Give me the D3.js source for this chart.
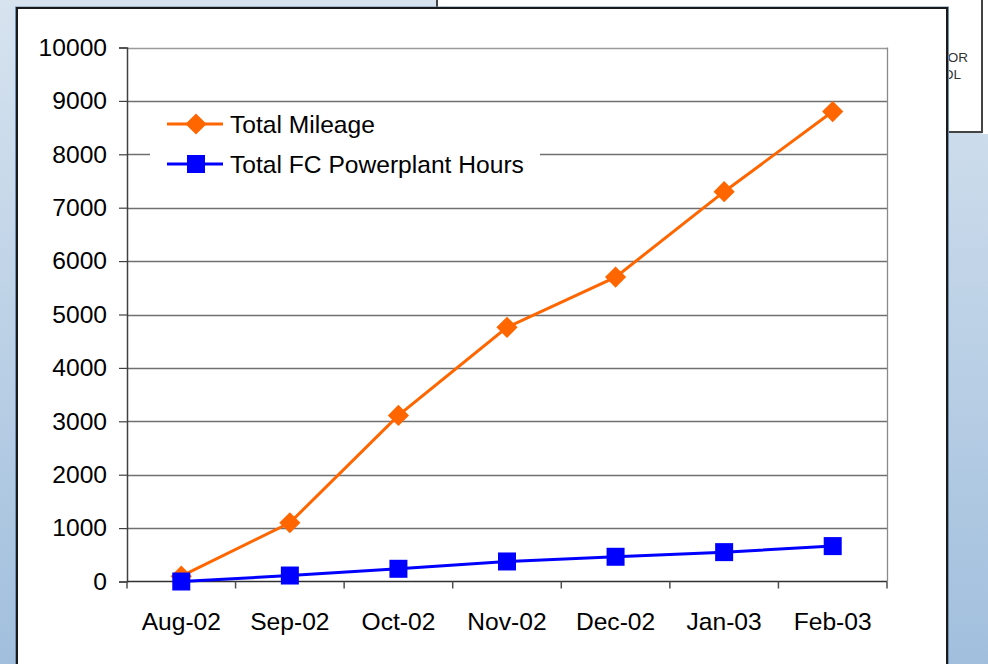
<!DOCTYPE html>
<html>
<head>
<meta charset="utf-8">
<script src="https://cdn.jsdelivr.net/npm/d3@7"></script>
<style>
  body { margin: 0; padding: 0; overflow: hidden; }
  svg { display: block; font-family: "Liberation Sans", Arial, sans-serif; }
</style>
</head>
<body>
<div id="chart"></div>
<script>
var months = ["Aug-02", "Sep-02", "Oct-02", "Nov-02", "Dec-02", "Jan-03", "Feb-03"];
var totalMileage = [100, 1100, 3110, 4760, 5700, 7300, 8800];
var fcHours = [0, 112, 238, 375, 463, 550, 663];
var yTicks = [0, 1000, 2000, 3000, 4000, 5000, 6000, 7000, 8000, 9000, 10000];
var seriesNames = ["Total Mileage", "Total FC Powerplant Hours"];

var W = 988, H = 664;
var plotL = 127, plotR = 887, plotT = 47.5, plotB = 581.5;
var fontSize = "24.6px";

var svg = d3.select("#chart").append("svg")
  .attr("width", W)
  .attr("height", H);

// slide background gradient
var defs = svg.append("defs");
var grad = defs.append("linearGradient")
  .attr("id", "bg")
  .attr("x1", 0).attr("y1", 0).attr("x2", 0).attr("y2", 1);
grad.append("stop").attr("offset", "0%").attr("stop-color", "#d7e3ef");
grad.append("stop").attr("offset", "100%").attr("stop-color", "#a1bfdd");

svg.append("rect")
  .attr("width", W).attr("height", H)
  .attr("fill", "url(#bg)");

// white box behind, top right
svg.append("rect")
  .attr("x", 982).attr("y", 0).attr("width", 6).attr("height", 134)
  .attr("fill", "#ffffff");
svg.append("rect")
  .attr("x", 437).attr("y", -5).attr("width", 545).attr("height", 137)
  .attr("fill", "#ffffff")
  .attr("stroke", "#444444")
  .attr("stroke-width", 2);
svg.append("text")
  .attr("x", 968).attr("y", 62)
  .attr("text-anchor", "end")
  .attr("font-size", "13.5px")
  .attr("fill", "#333333")
  .text("FOR");
svg.append("text")
  .attr("x", 961).attr("y", 79)
  .attr("text-anchor", "end")
  .attr("font-size", "13.5px")
  .attr("fill", "#333333")
  .text("TOOL");

// chart frame
svg.append("rect")
  .attr("x", 15.5).attr("y", 7).attr("width", 933).attr("height", 700)
  .attr("fill", "none")
  .attr("stroke", "#6f8fb0")
  .attr("stroke-width", 1);
svg.append("rect")
  .attr("x", 17).attr("y", 8).attr("width", 930).attr("height", 700)
  .attr("fill", "#ffffff")
  .attr("stroke", "#1a1a1a")
  .attr("stroke-width", 2);

var x = d3.scaleBand()
  .domain(months)
  .range([plotL, plotR])
  .padding(0);

var y = d3.scaleLinear()
  .domain([0, 10000])
  .range([plotB, plotT]);

// gridlines
svg.append("g")
  .selectAll("line")
  .data(yTicks.filter(function (d) { return d > 0; }))
  .enter().append("line")
  .attr("x1", plotL).attr("x2", plotR)
  .attr("y1", function (d) { return Math.round(y(d)) + 0.5; })
  .attr("y2", function (d) { return Math.round(y(d)) + 0.5; })
  .attr("stroke", function (d) { return d == 10000 ? "#9a9a9a" : "#707070"; })
  .attr("stroke-width", 1.3);

// right border of plot area
svg.append("line")
  .attr("x1", plotR + 0.5).attr("x2", plotR + 0.5)
  .attr("y1", plotT).attr("y2", plotB)
  .attr("stroke", "#8a8a8a")
  .attr("stroke-width", 1.3);

// y axis
var yAxis = svg.append("g")
  .attr("transform", "translate(" + plotL + ",0)")
  .call(d3.axisLeft(y).tickValues(yTicks).tickSize(8).tickPadding(12).tickFormat(d3.format("d")));
yAxis.select(".domain").attr("stroke", "#404040").attr("stroke-width", 1.5);
yAxis.selectAll(".tick line").attr("stroke", "#404040").attr("stroke-width", 1.2);
yAxis.selectAll(".tick text")
  .attr("font-size", fontSize)
  .attr("fill", "#000000")
  .attr("font-family", "Liberation Sans, Arial, sans-serif");

// x axis, ticks between categories
var xAxis = svg.append("g")
  .attr("transform", "translate(0," + plotB + ")");
xAxis.append("line")
  .attr("x1", plotL).attr("x2", plotR)
  .attr("stroke", "#303030")
  .attr("stroke-width", 1.5);
xAxis.selectAll(".xt")
  .data(months.concat(["end"]))
  .enter().append("line")
  .attr("class", "xt")
  .attr("x1", function (d, i) { return i < months.length ? x(d) : plotR; })
  .attr("x2", function (d, i) { return i < months.length ? x(d) : plotR; })
  .attr("y1", 0).attr("y2", 7)
  .attr("stroke", "#505050")
  .attr("stroke-width", 1.5);
xAxis.selectAll(".xl")
  .data(months)
  .enter().append("text")
  .attr("class", "xl")
  .attr("x", function (d) { return x(d) + x.bandwidth() / 2; })
  .attr("y", 48)
  .attr("text-anchor", "middle")
  .attr("font-size", fontSize)
  .attr("fill", "#000000")
  .text(function (d) { return d; });

var line = d3.line()
  .x(function (d, i) { return x(months[i]) + x.bandwidth() / 2; })
  .y(function (d) { return y(d); });

var orange = "#ff6600", blue = "#0000ff";

// mileage series
svg.append("path")
  .datum(totalMileage)
  .attr("d", line)
  .attr("fill", "none")
  .attr("stroke", orange)
  .attr("stroke-width", 3);
svg.append("g").selectAll("rect")
  .data(totalMileage)
  .enter().append("rect")
  .attr("x", -7.5).attr("y", -7.5).attr("width", 15).attr("height", 15)
  .attr("fill", orange)
  .attr("transform", function (d, i) {
    return "translate(" + (x(months[i]) + x.bandwidth() / 2) + "," + y(d) + ") rotate(45)";
  });

// fc hours series
svg.append("path")
  .datum(fcHours)
  .attr("d", line)
  .attr("fill", "none")
  .attr("stroke", blue)
  .attr("stroke-width", 3);
svg.append("g").selectAll("rect")
  .data(fcHours)
  .enter().append("rect")
  .attr("x", function (d, i) { return x(months[i]) + x.bandwidth() / 2 - 9; })
  .attr("y", function (d) { return y(d) - 9; })
  .attr("width", 18).attr("height", 18)
  .attr("fill", blue);

// legend
var legend = svg.append("g");
legend.append("rect")
  .attr("x", 150).attr("y", 104).attr("width", 390).attr("height", 82)
  .attr("fill", "#ffffff");
var items = legend.selectAll(".item")
  .data(seriesNames)
  .enter().append("g")
  .attr("transform", function (d, i) { return "translate(0," + (124 + i * 40) + ")"; });
items.append("line")
  .attr("x1", 167).attr("x2", 223)
  .attr("stroke", function (d, i) { return i == 0 ? orange : blue; })
  .attr("stroke-width", 3);
items.append("rect")
  .attr("x", function (d, i) { return i == 0 ? -7.5 : -9; })
  .attr("y", function (d, i) { return i == 0 ? -7.5 : -9; })
  .attr("width", function (d, i) { return i == 0 ? 15 : 18; })
  .attr("height", function (d, i) { return i == 0 ? 15 : 18; })
  .attr("fill", function (d, i) { return i == 0 ? orange : blue; })
  .attr("transform", function (d, i) { return "translate(196,0)" + (i == 0 ? " rotate(45)" : ""); });
items.append("text")
  .attr("x", 230).attr("y", 9)
  .attr("font-size", fontSize)
  .attr("fill", "#000000")
  .text(function (d) { return d; });
</script>
</body>
</html>
